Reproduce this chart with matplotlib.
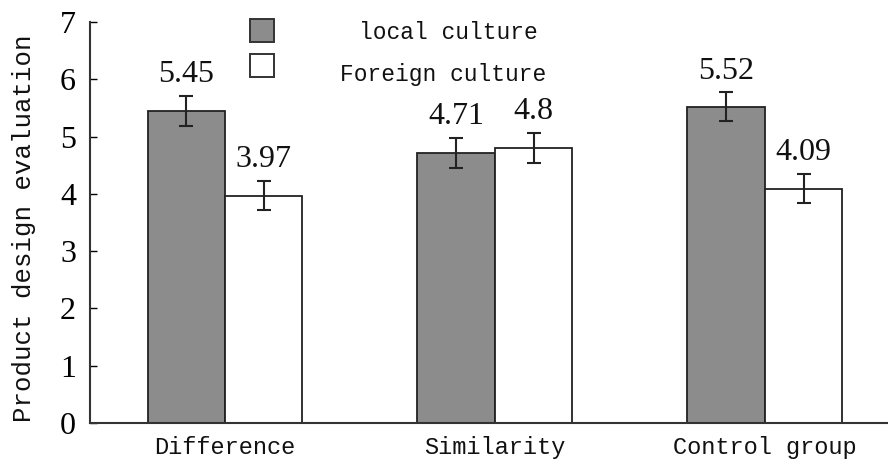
import matplotlib.pyplot as plt
import matplotlib.patches as mpatches
import numpy as np

# data
groups = ['Difference', 'Similarity', 'Control group']
local_vals = [5.45, 4.71, 5.52]
foreign_vals = [3.97, 4.8, 4.09]
local_err = [0.26, 0.26, 0.25]
foreign_err = [0.26, 0.26, 0.25]
series_names = ['local culture', 'Foreign culture']

serif = 'Liberation Serif'
mono = 'Liberation Mono'
edge = '#222222'

fig = plt.figure(figsize=(8.88, 4.65), dpi=100)
ax = fig.add_axes([90 / 888, 42 / 465, 798 / 888, 401 / 465])

x = np.arange(len(groups))
w = 0.287

ax.bar(x - w / 2, local_vals, w, color='#8c8c8c', edgecolor=edge, linewidth=1.3,
       yerr=local_err, error_kw=dict(ecolor='#222222', elinewidth=1.5, capsize=5, capthick=1.5))
ax.bar(x + w / 2, foreign_vals, w, color='white', edgecolor=edge, linewidth=1.3,
       yerr=foreign_err, error_kw=dict(ecolor='#222222', elinewidth=1.5, capsize=5, capthick=1.5))

# value labels above the error bars
for xs, vals, errs in [(x - w / 2, local_vals, local_err), (x + w / 2, foreign_vals, foreign_err)]:
    for xi, v, e in zip(xs, vals, errs):
        ax.annotate('{:g}'.format(v), (xi, v + e), xytext=(0, 5), textcoords='offset points',
                    ha='center', va='bottom', fontsize=23, family=serif, color='#111111')

ax.set_xlim(-0.5, 2.456)
ax.set_ylim(0, 7)
ax.set_yticks(range(8))
ax.set_xticks(x)
ax.set_xticklabels(groups, family=mono, fontsize=17, color='#111111')
ax.tick_params(axis='x', length=0, pad=9)
ax.tick_params(axis='y', direction='in', length=5, width=1, pad=10, labelsize=23)
for lab in ax.get_yticklabels():
    lab.set_family(serif)

for s in ['top', 'right']:
    ax.spines[s].set_visible(False)
for s in ['left', 'bottom']:
    ax.spines[s].set_color('#333333')
    ax.spines[s].set_linewidth(1.5)

ax.set_ylabel('Product design evaluation', family=mono, fontsize=18.5, color='#111111')
ax.yaxis.set_label_coords(-0.068, 0.486)

# legend drawn by hand: squares at left, centred labels
boxes = [(0.2, 0.95, '#8c8c8c'), (0.2, 0.862, 'white')]
for hx, hy, c in boxes:
    ax.add_patch(mpatches.Rectangle((hx, hy), 0.031, 0.057, transform=ax.transAxes,
                                    facecolor=c, edgecolor='#333333', linewidth=1.4, clip_on=False))
ax.text(0.449, 0.975, series_names[0], transform=ax.transAxes, ha='center', va='center',
        family=mono, fontsize=16.5, color='#111111')
ax.text(0.443, 0.868, series_names[1], transform=ax.transAxes, ha='center', va='center',
        family=mono, fontsize=16.5, color='#111111')

fig.savefig('out.png', dpi=100)
